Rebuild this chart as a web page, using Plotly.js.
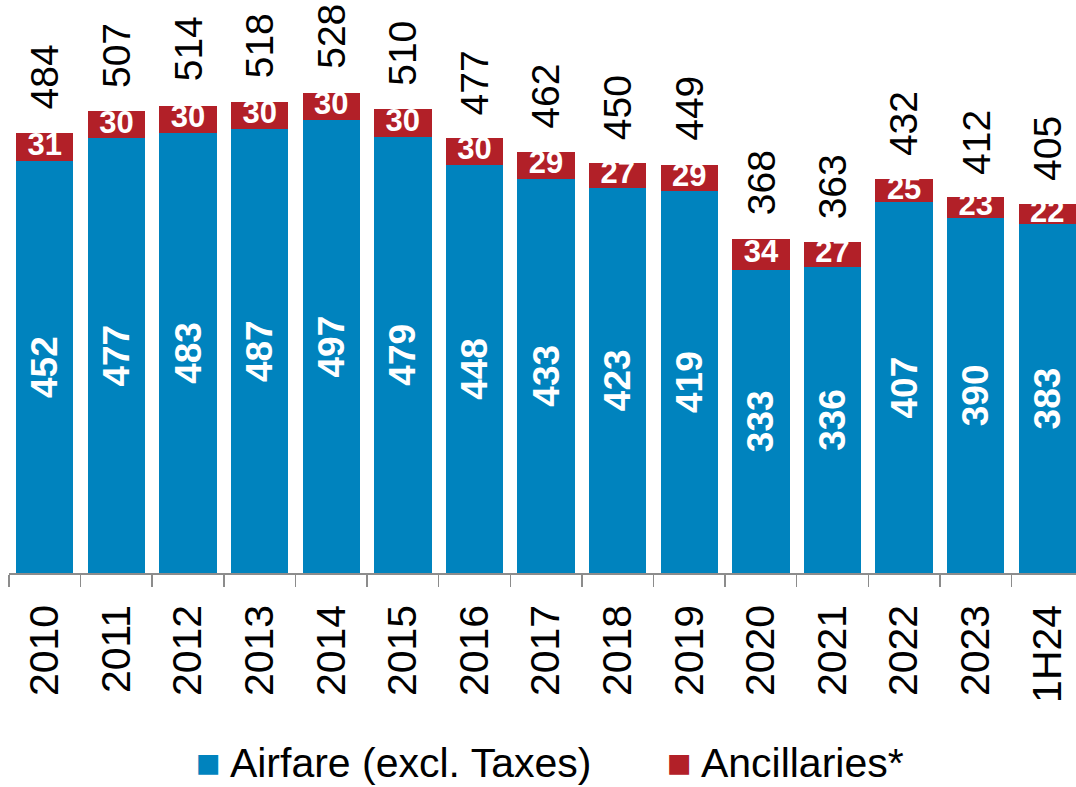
<!DOCTYPE html>
<html>
<head>
<meta charset="utf-8">
<script src="https://cdn.plot.ly/plotly-3.0.1.min.js"></script>
<style>
  html, body { margin: 0; padding: 0; background: #fff; }
  #chart { width: 1076px; height: 787px; }
</style>
</head>
<body>
<div id="chart"></div>
<script>
const years = ['2010', '2011', '2012', '2013', '2014', '2015', '2016', '2017',
               '2018', '2019', '2020', '2021', '2022', '2023', '1H24'];
const airfare = [452, 477, 483, 487, 497, 479, 448, 433, 423, 419, 333, 336, 407, 390, 383];
const ancillaries = [31, 30, 30, 30, 30, 30, 30, 29, 27, 29, 34, 27, 25, 23, 22];
const totals = [484, 507, 514, 518, 528, 510, 477, 462, 450, 449, 368, 363, 432, 412, 405];

const blue = '#0083BE';
const red = '#B22028';
const font = '"Liberation Sans", Arial, sans-serif';

const trace1 = {
    x: years,
    y: airfare,
    name: 'Airfare (excl. Taxes)',
    type: 'bar',
    marker: {color: blue},
    text: airfare.map(String),
    textposition: 'inside',
    insidetextanchor: 'middle',
    textangle: -90,
    constraintext: 'none',
    textfont: {family: font, size: 37, color: '#fff', weight: 'bold'},
    hoverinfo: 'skip'
};

const trace2 = {
    x: years,
    y: ancillaries,
    name: 'Ancillaries*',
    type: 'bar',
    marker: {color: red},
    textposition: 'none',
    hoverinfo: 'skip'
};

// ancillary values as plain text in the middle of the red segment,
// so small segments keep full-size labels like the reference
const trace3 = {
    x: years,
    y: airfare.map((v, i) => v + ancillaries[i] / 2),
    type: 'scatter',
    mode: 'text',
    text: ancillaries.map(String),
    textposition: 'middle center',
    textfont: {family: font, size: 31, color: '#fff', weight: 'bold'},
    showlegend: false,
    hoverinfo: 'skip',
    cliponaxis: false
};

// totals above each stack (x given as category index, '2010' etc. would be read as numbers)
const totalLabels = years.map((yr, i) => ({
    x: i,
    y: totals[i],
    xref: 'x',
    yref: 'y',
    text: String(totals[i]),
    textangle: -90,
    showarrow: false,
    xanchor: 'center',
    yanchor: 'bottom',
    yshift: 21,
    font: {family: font, size: 39, color: '#000'}
}));

// legend drawn as text so the swatches can be as big as the reference
const legendItems = [
    {x: 0.1730, text: '<span style="color:' + blue + '">■</span> Airfare (excl. Taxes)'},
    {x: 0.6150, text: '<span style="color:' + red + '">■</span> Ancillaries*'}
].map(d => ({
    x: d.x,
    y: -0.332,
    xref: 'paper',
    yref: 'paper',
    text: d.text,
    showarrow: false,
    xanchor: 'left',
    yanchor: 'middle',
    font: {family: font, size: 41, color: '#000'}
}));

const layout = {
    width: 1076,
    height: 787,
    barmode: 'stack',
    bargap: 0.2,
    showlegend: false,
    paper_bgcolor: '#fff',
    plot_bgcolor: '#fff',
    margin: {t: 0, b: 214, l: 9, r: 0, pad: 0},
    xaxis: {
        type: 'category',
        range: [-0.5, 14.4],
        showline: true,
        linecolor: '#8c8c8c',
        linewidth: 1.5,
        ticks: 'outside',
        tickson: 'boundaries',
        ticklen: 12,
        tickcolor: '#8c8c8c',
        tickwidth: 1.5,
        tickangle: -90,
        ticklabelstandoff: 14,
        tickfont: {family: font, size: 41, color: '#000'},
        showgrid: false,
        zeroline: false
    },
    yaxis: {
        range: [0, 629],
        visible: false,
        showgrid: false,
        zeroline: false
    },
    annotations: totalLabels.concat(legendItems)
};

Plotly.newPlot('chart', [trace1, trace2, trace3], layout, {displayModeBar: false, staticPlot: true});
</script>
</body>
</html>
